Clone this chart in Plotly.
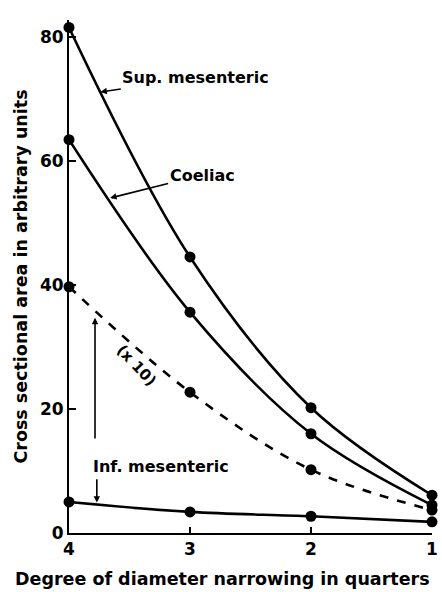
import plotly.graph_objects as go

quarters = [4, 3, 2, 1]
sup_mesenteric = [81.5, 44.5, 20.2, 6.1]
coeliac = [63.4, 35.6, 16.0, 4.5]
inf_mesenteric_x10 = [39.7, 22.7, 10.2, 3.7]
inf_mesenteric = [5.0, 3.4, 2.7, 1.8]

FONT = "DejaVu Sans"
fig = go.Figure()

def add_series(y, dash="solid"):
    fig.add_trace(go.Scatter(
        x=quarters, y=y, mode="lines+markers",
        line=dict(color="black", width=2.6, shape="spline", dash=dash),
        marker=dict(color="black", size=11),
        cliponaxis=False, showlegend=False, hoverinfo="skip"))

add_series(sup_mesenteric)
add_series(coeliac)
add_series(inf_mesenteric_x10, dash="dash")
add_series(inf_mesenteric)

lab = dict(family=FONT, size=16, color="black", weight=700)

fig.add_annotation(x=3.74, y=71.1, xref="x", yref="y", text="Sup. mesenteric",
                   font=lab, showarrow=True, arrowhead=2, arrowsize=0.8, arrowwidth=1.6,
                   ax=95, ay=-14, arrowcolor="black")
fig.add_annotation(x=3.66, y=54.0, xref="x", yref="y", text="Coeliac",
                   font=lab, showarrow=True, arrowhead=2, arrowsize=0.8, arrowwidth=1.6,
                   ax=92, ay=-23, arrowcolor="black")
fig.add_annotation(x=3.446, y=27.1, xref="x", yref="y", text="(x 10)",
                   font=dict(family=FONT, size=15, color="black", weight=700),
                   textangle=47, showarrow=False)
fig.add_annotation(x=3.785, y=34.7, xref="x", yref="y", ax=3.785, ay=15.0,
                   axref="x", ayref="y", text="", showarrow=True, arrowhead=2,
                   arrowsize=0.8, arrowwidth=1.6, arrowcolor="black")
fig.add_annotation(x=3.24, y=10.7, xref="x", yref="y", text="Inf. mesenteric",
                   font=lab, showarrow=False)
fig.add_annotation(x=3.77, y=4.9, xref="x", yref="y", ax=3.77, ay=8.9,
                   axref="x", ayref="y", text="", showarrow=True, arrowhead=2,
                   arrowsize=0.8, arrowwidth=1.6, arrowcolor="black")

tickfont = dict(family=FONT, size=17, color="black", weight=700)
titlefont = dict(family=FONT, size=17.5, color="black", weight=700)

# x-axis title (placed as paper annotation so it can sit left of plot centre)
fig.add_annotation(x=0.4215, y=0, xref="paper", yref="paper", xanchor="center",
                   yanchor="top", yshift=-34, showarrow=False,
                   text="Degree of diameter narrowing in quarters", font=titlefont)

fig.update_xaxes(range=[4, 1], tickvals=[4, 3, 2, 1], ticktext=["4", "3", "2", "1"],
                 ticks="inside", ticklen=6, tickwidth=2, tickcolor="black",
                 showline=True, linecolor="black", linewidth=2, showgrid=False,
                 zeroline=False, tickfont=tickfont, automargin=False)
fig.update_yaxes(range=[0, 82.7], tickvals=[0, 20, 40, 60, 80],
                 ticks="inside", ticklen=7, tickwidth=2, tickcolor="black",
                 showline=True, linecolor="black", linewidth=2, showgrid=False,
                 zeroline=False, tickfont=tickfont, automargin=False,
                 title=dict(text="Cross sectional area in arbitrary units",
                            font=titlefont, standoff=8))

fig.update_layout(width=442, height=592, margin=dict(l=69, r=10, t=20, b=59),
                  plot_bgcolor="white", paper_bgcolor="white")

fig.write_html("out.html", config={"displayModeBar": False},
               post_script="document.body.style.margin='0';document.body.style.overflow='hidden';")
